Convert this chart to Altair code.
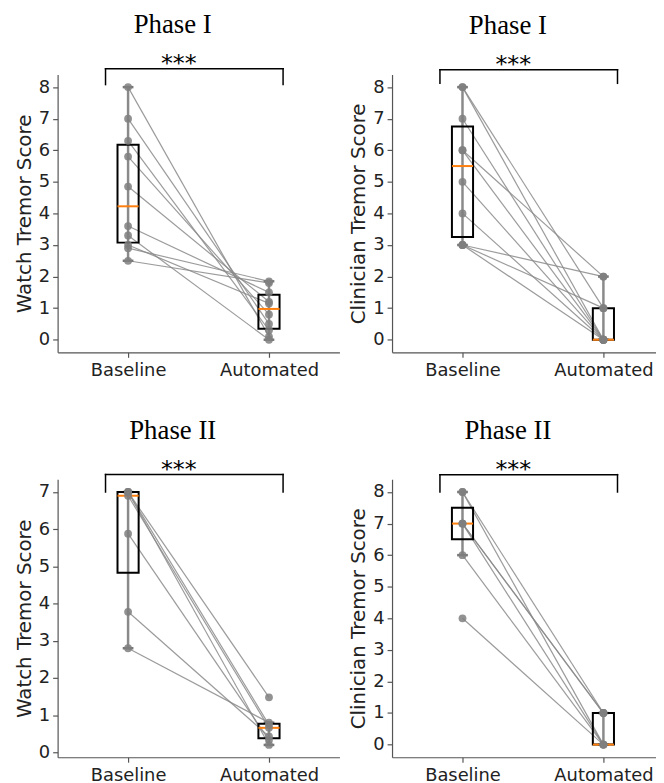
import altair as alt
import numpy as np
import pandas as pd

# ---------------- data ----------------
categories = ["Baseline", "Automated"]
panel_titles = ["Phase I", "Phase I", "Phase II", "Phase II"]
y_titles = ["Watch Tremor Score", "Clinician Tremor Score",
            "Watch Tremor Score", "Clinician Tremor Score"]

p1_baseline = [8.0, 7.0, 6.3, 5.8, 4.85, 3.6, 3.3, 3.0, 2.9, 2.5]
p1_automated = [0.1, 0.5, 0.3, 0.8, 1.2, 1.5, 0.0, 1.15, 1.85, 1.8]

p2_baseline = [8, 8, 7, 6, 6, 5, 4, 3, 3, 3]
p2_automated = [1, 0, 0, 2, 0, 0, 0, 2, 0, 1]

p3_baseline = [7.0, 7.0, 7.0, 6.9, 5.88, 3.78, 2.8]
p3_automated = [1.48, 0.74, 0.2, 0.66, 0.33, 0.43, 0.8]

p4_baseline = [8, 8, 7, 7, 7, 6, 4]
p4_automated = [1, 0, 1, 0, 1, 0, 0]

sig_label = "***"
bracket_left = [-0.16, -0.16, -0.16, -0.16]
bracket_right = [1.10, 1.10, 1.10, 1.10]
bracket_top = [8.58, 8.55, 7.47, 8.55]
bracket_bottom = [8.08, 8.12, 7.0, 8.0]
star_x = [0.36, 0.36, 0.36, 0.36]

y_domains = [[-0.4, 8.4], [-0.4, 8.4], [-0.13, 7.34], [-0.4, 8.4]]
y_ticks = [list(range(9)), list(range(9)), list(range(8)), list(range(9))]
x_domains = [[-0.5, 1.5], [-0.5, 1.37], [-0.5, 1.5], [-0.5, 1.37]]
title_dx = [-26, -16, -26, -16]

all_base = [p1_baseline, p2_baseline, p3_baseline, p4_baseline]
all_auto = [p1_automated, p2_automated, p3_automated, p4_automated]

BOX_HALF = 0.075
CAP_HALF = 0.038
PX_PER_UNIT = 142

label_expr = f"datum.value == 0 ? '{categories[0]}' : '{categories[1]}'"


def panel(i):
    base, auto = all_base[i], all_auto[i]
    n = len(base)
    df = pd.DataFrame({
        "subject": list(range(n)) * 2,
        "x": [0] * n + [1] * n,
        "y": list(base) + list(auto),
    })
    rows = []
    for xv, vals in [(0, base), (1, auto)]:
        a = np.array(vals, dtype=float)
        q1, med, q3 = np.percentile(a, [25, 50, 75])
        iqr = q3 - q1
        lo = a[a >= q1 - 1.5 * iqr].min()
        hi = a[a <= q3 + 1.5 * iqr].max()
        rows.append(dict(x=xv, xl=xv - BOX_HALF, xr=xv + BOX_HALF,
                         cl=xv - CAP_HALF, cr=xv + CAP_HALF,
                         q1=q1, med=med, q3=q3, lo=lo, hi=hi))
    st = pd.DataFrame(rows)

    br = pd.DataFrame({
        "x": [bracket_left[i], bracket_left[i], bracket_right[i]],
        "x2": [bracket_right[i], bracket_left[i], bracket_right[i]],
        "y": [bracket_top[i], bracket_bottom[i], bracket_bottom[i]],
        "y2": [bracket_top[i], bracket_top[i], bracket_top[i]],
    })
    stars = pd.DataFrame({"x": [star_x[i]], "y": [bracket_top[i]], "t": [sig_label]})

    xs = alt.Scale(domain=x_domains[i], nice=False, zero=False)
    ys = alt.Scale(domain=y_domains[i], nice=False, zero=False)
    xax = alt.Axis(values=[0, 1], labelExpr=label_expr, title=None)
    yax = alt.Axis(values=y_ticks[i], title=y_titles[i], format="d")

    def X(f):
        return alt.X(f, scale=xs, axis=xax)

    def Y(f):
        return alt.Y(f, scale=ys, axis=yax)

    lines = alt.Chart(df).mark_line(color="#8a8a8a", strokeWidth=1.2, opacity=0.85).encode(
        x=X("x:Q"), y=Y("y:Q"), detail="subject:N")
    whisk = alt.Chart(st).mark_rule(color="#8a8a8a", strokeWidth=2.5).encode(
        x=X("x:Q"), y=Y("lo:Q"), y2="hi")
    cap_lo = alt.Chart(st).mark_rule(color="#777777", strokeWidth=2.5).encode(
        x=X("cl:Q"), x2="cr", y=Y("lo:Q"))
    cap_hi = alt.Chart(st).mark_rule(color="#777777", strokeWidth=2.5).encode(
        x=X("cl:Q"), x2="cr", y=Y("hi:Q"))
    box = alt.Chart(st).mark_rect(fill=None, fillOpacity=0, stroke="black", strokeWidth=2).encode(
        x=X("xl:Q"), x2="xr", y=Y("q1:Q"), y2="q3")
    med = alt.Chart(st).mark_rule(color="#ff7f0e", strokeWidth=2).encode(
        x=X("xl:Q"), x2="xr", y=Y("med:Q"))
    pts = alt.Chart(df).mark_circle(size=62, color="#7f7f7f", opacity=0.85).encode(
        x=X("x:Q"), y=Y("y:Q"))
    brk = alt.Chart(br).mark_rule(color="black", strokeWidth=1.5, strokeCap="square").encode(
        x=X("x:Q"), x2="x2", y=Y("y:Q"), y2="y2")
    txt = alt.Chart(stars).mark_text(font="DejaVu Sans", fontSize=24, baseline="alphabetic",
                                     align="center", dy=2, color="black").encode(
        x=X("x:Q"), y=Y("y:Q"), text="t:N")

    w = (x_domains[i][1] - x_domains[i][0]) * PX_PER_UNIT
    return alt.layer(lines, whisk, cap_lo, cap_hi, box, med, pts, brk, txt).properties(
        width=w, height=280,
        title=alt.TitleParams(panel_titles[i], font="Liberation Serif", fontSize=27,
                              fontWeight="normal", color="black", frame="group",
                              anchor="middle", baseline="alphabetic", offset=-8,
                              dx=title_dx[i]),
    )


chart = alt.concat(
    panel(0), panel(1), panel(2), panel(3),
    columns=2, spacing={"row": 128, "column": 53}, bounds="flush",
).properties(
    padding={"left": 6, "top": 0, "right": 0, "bottom": 0},
).configure_view(stroke=None).configure_axis(
    grid=False, domainColor="#555555", domainWidth=1.2, tickColor="#555555",
    tickWidth=1.2, tickSize=5, labelFont="DejaVu Sans", labelFontSize=18,
    labelColor="#222222", labelPadding=3, titleFont="DejaVu Sans", titleFontSize=20,
    titleFontWeight="normal", titleColor="#222222", titlePadding=4,
).configure_axisX(labelPadding=4)

chart.save("out.html", embed_options={"renderer": "svg", "actions": False})
